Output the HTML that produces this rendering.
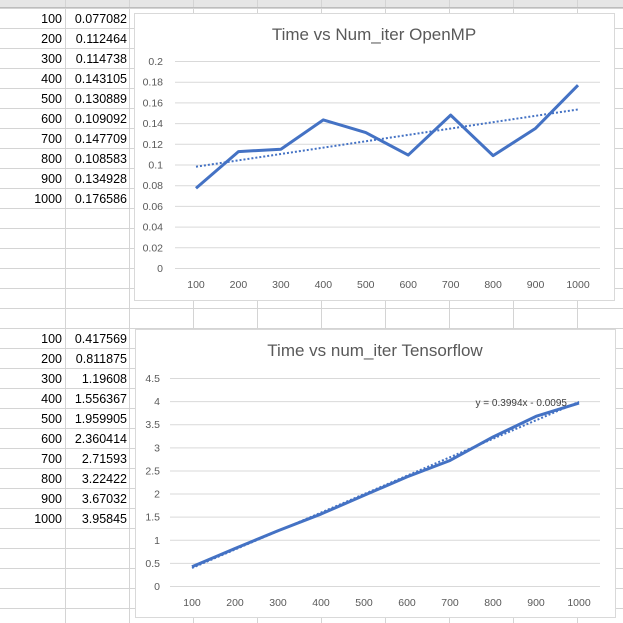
<!DOCTYPE html>
<html><head><meta charset="utf-8"><style>
body{margin:0;background:#fff;font-family:"Liberation Sans",sans-serif}
svg{display:block}
</style></head><body>
<svg id="s" width="623" height="623" xmlns="http://www.w3.org/2000/svg"></svg>
<script>
const xCats=[100,200,300,400,500,600,700,800,900,1000];
const ompVals=[0.077082,0.112464,0.114738,0.143105,0.130889,0.109092,0.147709,0.108583,0.134928,0.176586];
const tfVals=[0.417569,0.811875,1.19608,1.556367,1.959905,2.360414,2.71593,3.22422,3.67032,3.95845];
const ompTicks=[0,0.02,0.04,0.06,0.08,0.1,0.12,0.14,0.16,0.18,0.2];
const tfTicks=[0,0.5,1,1.5,2,2.5,3,3.5,4,4.5];
const ompCellText=["0.077082","0.112464","0.114738","0.143105","0.130889","0.109092","0.147709","0.108583","0.134928","0.176586"];
const tfCellText=["0.417569","0.811875","1.19608","1.556367","1.959905","2.360414","2.71593","3.22422","3.67032","3.95845"];
const NS="http://www.w3.org/2000/svg";
const s=document.getElementById('s');
function el(t,a,p){const e=document.createElementNS(NS,t);for(const k in a)e.setAttribute(k,a[k]);(p||s).appendChild(e);return e;}
const cols=[65,129,193,257,321,385,449,513,577];
el('rect',{x:0,y:0,width:623,height:7,fill:'#e6e6e6'});
for(let y=8;y<623;y+=20){el('line',{x1:0,x2:623,y1:y+0.5,y2:y+0.5,stroke:'#d4d4d4'});}
cols.forEach(x=>{el('line',{x1:x+0.5,x2:x+0.5,y1:0,y2:623,stroke:'#d4d4d4'});});
el('line',{x1:0,x2:623,y1:7.5,y2:7.5,stroke:'#bdbdbd'});
function cells(y0,texts){
  xCats.forEach((c,i)=>{
    const t=el('text',{x:62,y:y0+i*20,'text-anchor':'end','font-size':12.5,fill:'#000'});t.textContent=c;
    
    
    const v=el('text',{x:127,y:y0+i*20,'text-anchor':'end','font-size':12.5,fill:'#000'});v.textContent=texts[i];
    
    
  });
}
cells(23,ompCellText);
cells(343,tfCellText);
function chart(o){
  const g=el('g',{});
  
  
  el('rect',{x:o.bx+0.5,y:o.by+0.5,width:o.bw,height:o.bh,fill:'#fff',stroke:'#d9d9d9'},g);
  const t=el('text',{x:o.bx+o.bw/2,y:o.by+27,'text-anchor':'middle','font-size':17,fill:'#595959'},g);t.textContent=o.title;
  
  
  const ymax=o.ticks[o.ticks.length-1];
  const Y=v=>o.y0-(v/ymax)*(o.y0-o.yTop);
  const X=i=>o.x0+i*(o.x1-o.x0)/(xCats.length-1);
  o.ticks.forEach(v=>{
    el('line',{x1:o.gl,x2:o.gr,y1:Y(v)+0.5,y2:Y(v)+0.5,stroke:'#d9d9d9'},g);
    const tl=el('text',{x:o.lx,y:Y(v)+4,'text-anchor':'end','font-size':10.5,fill:'#595959'},g);tl.textContent=v;
    
    
  });
  xCats.forEach((c,i)=>{const xl=el('text',{x:X(i),y:o.y0+20,'text-anchor':'middle','font-size':10.5,fill:'#595959'},g);xl.textContent=c;
    
    });
  const n=xCats.length;let sx=0,sy=0,sxy=0,sxx=0;
  o.vals.forEach((v,i)=>{const xi=i+1;sx+=xi;sy+=v;sxy+=xi*v;sxx+=xi*xi;});
  const m=(n*sxy-sx*sy)/(n*sxx-sx*sx),b=(sy-m*sx)/n;
  const tr=el('line',{x1:X(0),y1:Y(m*1+b),x2:X(n-1),y2:Y(m*n+b),stroke:'#4472c4','stroke-width':2,'stroke-dasharray':'2 2'},g);
  
  
  const p=el('polyline',{points:o.vals.map((v,i)=>X(i)+','+Y(v)).join(' '),fill:'none',stroke:'#4472c4','stroke-width':3,'stroke-linejoin':'round'},g);
  
  
  if(o.eq){const e=el('text',{x:567,y:406,'text-anchor':'end','font-size':10,fill:'#404040'},g);e.textContent=o.eq;
    
    }
}
chart({name:'openmp-chart',title:'Time vs Num_iter OpenMP',bx:134,by:13,bw:480,bh:287,vals:ompVals,ticks:ompTicks,y0:268,yTop:61,x0:196,x1:578,gl:175,gr:600,lx:163});
chart({name:'tensorflow-chart',title:'Time vs num_iter Tensorflow',bx:135,by:329,bw:480,bh:288,vals:tfVals,ticks:tfTicks,y0:586,yTop:378,x0:192,x1:579,gl:170,gr:600,lx:160,eq:'y = 0.3994x - 0.0095'});
</script>
</body></html>
